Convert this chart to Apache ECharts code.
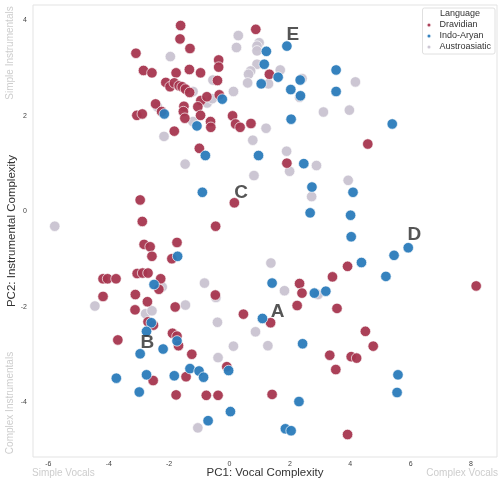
<!DOCTYPE html>
<html>
<head>
<meta charset="utf-8">
<script src="https://cdn.jsdelivr.net/npm/echarts@6/dist/echarts.min.js"></script>
<style>html,body{margin:0;padding:0;background:#fff}#c{width:499px;height:484px}</style>
</head>
<body>
<div id="c"></div>
<script>
const dravidianPC1 = [-1.62,-1.64,-1.31,-3.10,-2.85,-2.57,-1.77,-1.33,-0.96,-0.36,-0.36,-0.40,-2.11,-1.97,-1.83,-1.67,-1.57,-1.46,-1.32,-0.95,-0.75,-0.34,-2.45,-2.25,-3.07,-2.89,-1.51,-1.53,-1.48,-1.05,-0.96,-0.63,-0.62,-1.83,0.10,0.20,0.35,0.71,-1.00,0.16,-2.96,-2.89,-0.46,0.87,1.32,1.90,4.58,3.91,3.41,2.32,2.40,8.17,2.24,3.56,1.36,4.50,4.76,3.32,4.03,4.21,3.52,1.41,3.91,-1.74,-1.91,-2.83,-2.63,-2.57,-4.19,-4.04,-3.76,-3.06,-2.88,-2.70,-2.28,-2.34,-4.19,-3.12,-2.72,-0.47,-3.13,-1.80,0.46,-2.70,-2.52,-1.89,-1.74,-1.69,-3.70,-1.25,-0.09,-2.53,-1.44,-1.77,-0.77,-0.38];
const dravidianPC2 = [3.89,3.61,3.41,3.31,2.95,2.90,2.90,2.97,2.90,3.17,3.02,2.74,2.70,2.61,2.69,2.63,2.61,2.56,2.49,2.32,2.40,2.44,2.25,2.09,2.01,2.04,2.20,2.09,1.95,2.19,2.01,1.88,1.76,1.68,2.00,1.83,1.76,1.84,1.32,0.18,0.24,-0.21,-0.31,3.81,2.87,1.01,1.41,-1.15,-1.37,-1.51,-1.71,-1.56,-1.97,-2.03,-2.33,-2.51,-2.82,-3.01,-3.04,-3.07,-3.31,-3.83,-4.67,-0.65,-0.99,-0.69,-0.74,-0.94,-1.41,-1.41,-1.41,-1.30,-1.29,-1.29,-1.41,-1.63,-1.78,-1.74,-1.89,-1.75,-2.06,-2.00,-2.15,-2.31,-2.38,-2.55,-2.61,-2.81,-2.69,-2.99,-3.25,-3.54,-3.46,-3.84,-3.85,-3.85];

const indoAryanPC1 = [-2.16,-0.24,-1.08,-0.80,-0.90,1.90,1.22,1.15,1.61,1.05,2.34,2.03,2.35,3.53,3.53,2.04,5.39,0.96,2.46,2.73,4.09,2.67,4.01,4.03,5.92,5.45,4.37,5.18,1.41,2.81,3.19,1.09,2.42,5.58,5.55,2.30,1.85,2.04,-1.72,-2.50,-2.59,-1.74,-2.75,-2.20,-2.96,-3.75,-2.75,-1.83,-1.31,-1.01,-0.86,-0.03,-2.99,0.03,-0.71];
const indoAryanPC2 = [2.04,2.35,1.79,1.17,0.40,3.46,3.35,3.08,2.81,2.67,2.75,2.55,2.42,2.96,2.51,1.93,1.83,1.17,1.00,0.51,0.40,-0.03,-0.08,-0.53,-0.76,-0.92,-1.07,-1.36,-1.50,-1.71,-1.67,-2.24,-2.77,-3.42,-3.79,-3.98,-4.55,-4.59,-0.94,-1.53,-2.33,-2.71,-2.51,-2.88,-2.98,-3.49,-3.42,-3.44,-3.29,-3.34,-3.47,-3.33,-3.78,-4.19,-4.38];

const austroasiaticPC1 = [0.29,0.23,-1.96,-0.55,-1.21,0.13,-0.74,-0.57,-1.21,-2.17,-1.47,-5.79,-2.39,0.98,0.91,0.91,0.91,0.70,0.63,0.60,1.29,1.68,2.40,2.32,3.11,4.17,3.97,1.21,0.77,1.89,2.88,1.99,0.81,3.93,2.72,1.37,1.82,2.93,0.86,1.27,-0.83,-0.45,-1.46,-0.40,0.13,-0.38,-1.05,-2.23,-4.46,-2.78,-2.57];
const austroasiaticPC2 = [3.68,3.43,3.24,2.75,2.51,2.51,2.27,2.36,1.88,1.57,0.99,-0.31,2.19,3.53,3.46,3.36,3.08,2.94,2.87,2.69,2.67,2.96,2.78,2.39,2.08,2.71,2.12,1.74,1.49,1.26,0.96,0.84,0.75,0.65,0.31,-1.08,-1.66,-1.74,-2.52,-2.81,-1.50,-1.80,-1.96,-2.32,-2.82,-3.06,-4.53,-1.58,-1.98,-2.14,-2.08];

const clusterNames = ['A','B','C','D','E'];
const clusterPC1 = [1.59,-2.72,0.38,6.12,2.10];
const clusterPC2 = [-2.11,-2.75,0.40,-0.49,3.69];

const xTicks = [-6,-4,-2,0,2,4,6,8];
const yTicks = [-4,-2,0,2,4];

const zip = (a,b) => a.map((v,i)=>[v,b[i]]);
const FONT = '"Liberation Sans", Arial, sans-serif';

const chart = echarts.init(document.getElementById('c'), null, {renderer:'canvas'});
const pointSeries = (name, color, xs, ys, z) => ({
  name, type:'scatter', data: zip(xs,ys), symbolSize: 10.5, z,
  itemStyle:{color, opacity:0.95, borderColor:'#fff', borderWidth:0.7}
});
chart.setOption({
  animation:false,
  backgroundColor:'#fff',
  grid:{left:33, right:2, top:5, bottom:27, outerBoundsMode:'none', containLabel:false, show:true, borderColor:'#e3e3e3', borderWidth:1, backgroundColor:'#fff'},
  xAxis:{
    type:'value', min:-6.51, max:8.86,
    splitLine:{show:false}, axisLine:{show:false}, axisTick:{show:false},
    axisLabel:{customValues:xTicks, fontSize:7, color:'#444', margin:4, fontFamily:FONT},
    name:'PC1: Vocal Complexity', nameLocation:'middle', nameGap:10, nameMoveOverlap:false,
    nameTextStyle:{fontSize:11.5, color:'#333', fontFamily:FONT, verticalAlign:'top'}
  },
  yAxis:{
    type:'value', min:-5.14, max:4.32,
    splitLine:{show:false}, axisLine:{show:false}, axisTick:{show:false},
    axisLabel:{customValues:yTicks, fontSize:7, color:'#444', margin:6, fontFamily:FONT},
    name:'PC2: Instrumental Complexity', nameLocation:'middle', nameGap:15, nameMoveOverlap:false,
    nameTextStyle:{fontSize:11.5, color:'#333', fontFamily:FONT}
  },
  legend:{
    orient:'vertical', right:4, top:8, z:5,
    data:['Dravidian','Indo-Aryan','Austroasiatic'],
    icon:'circle', itemWidth:5, itemHeight:5, itemGap:1,
    padding:[12,4,2,3],
    borderColor:'#e0e0e0', borderWidth:1, borderRadius:2, backgroundColor:'#fff',
    textStyle:{fontSize:9, lineHeight:10, color:'#333', fontFamily:FONT, padding:[0,0,0,3]}
  },
  graphic:[
    {type:'text', z:100, x:460, y:14, style:{text:'Language', fill:'#333', font:'9px '+FONT, align:'center', verticalAlign:'middle'}},
    {type:'text', z:100, x:10, y:53, rotation:Math.PI/2, style:{text:'Simple Instrumentals', fill:'#cdcdcd', font:'10px '+FONT, align:'center', verticalAlign:'middle'}},
    {type:'text', z:100, x:10, y:403, rotation:Math.PI/2, style:{text:'Complex Instrumentals', fill:'#cdcdcd', font:'10px '+FONT, align:'center', verticalAlign:'middle'}},
    {type:'text', z:100, x:32, y:473, style:{text:'Simple Vocals', fill:'#cdcdcd', font:'10px '+FONT, align:'left', verticalAlign:'middle'}},
    {type:'text', z:100, x:498, y:473, style:{text:'Complex Vocals', fill:'#cdcdcd', font:'10px '+FONT, align:'right', verticalAlign:'middle'}}
  ],
  series:[
    pointSeries('Austroasiatic', '#c9c3d1', austroasiaticPC1, austroasiaticPC2, 2),
    pointSeries('Dravidian', '#a6364f', dravidianPC1, dravidianPC2, 3),
    pointSeries('Indo-Aryan', '#2a7bbb', indoAryanPC1, indoAryanPC2, 4),
    {
      name:'clusters', type:'scatter', symbolSize:1, z:6,
      itemStyle:{color:'rgba(0,0,0,0)'},
      data: clusterNames.map((n,i)=>({value:[clusterPC1[i],clusterPC2[i]], name:n})),
      label:{show:true, position:'inside', formatter:p=>p.name, fontSize:19, fontWeight:'bold', color:'#2b2b2b', fontFamily:FONT}
    }
  ]
});
</script>
</body>
</html>
